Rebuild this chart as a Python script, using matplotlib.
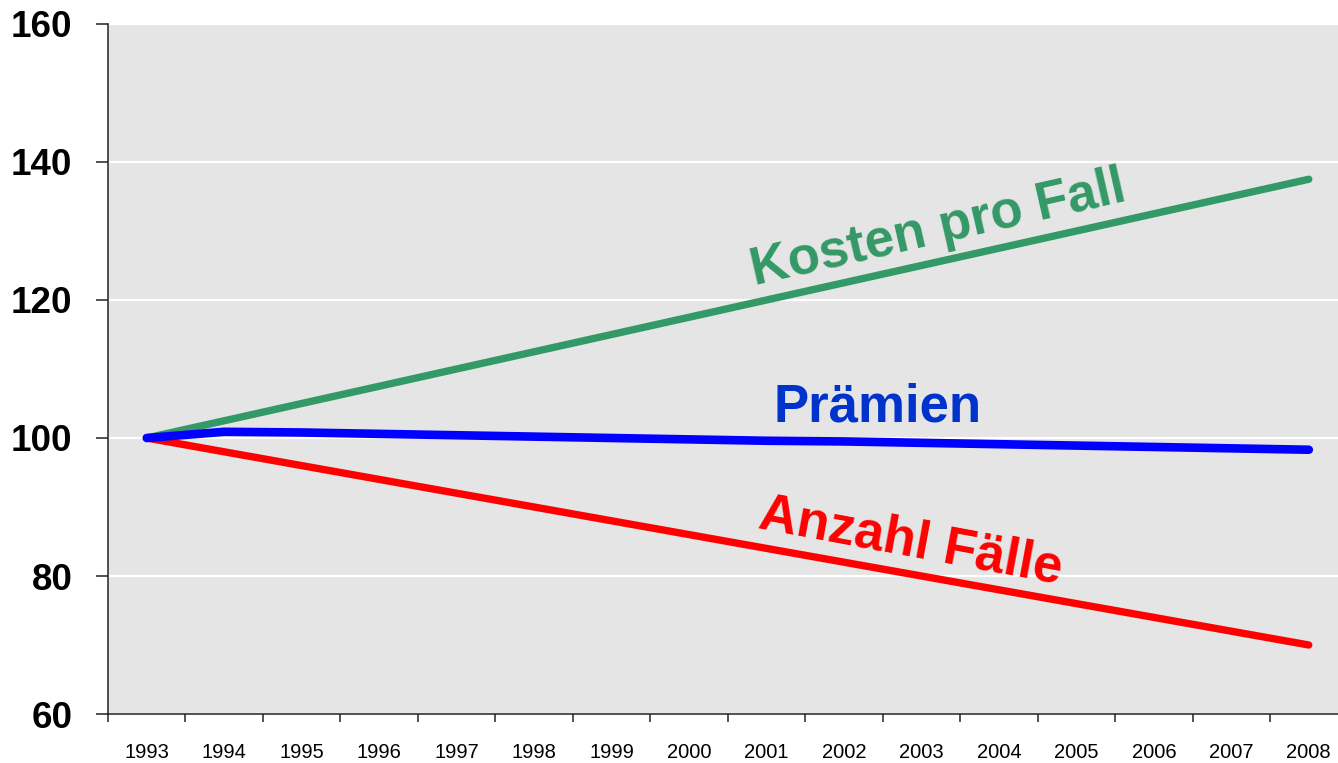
#!/usr/bin/env python3
"""Index chart 1993-2008: Kosten pro Fall, Prämien, Anzahl Fälle (1993 = 100)."""
import numpy as np
import matplotlib
matplotlib.use("Agg")
import matplotlib.pyplot as plt

plt.rcParams["font.family"] = ["Liberation Sans", "DejaVu Sans"]

YEARS = [str(y) for y in range(1993, 2009)]

# index values
KOSTEN = [100, 102.5, 105.0, 107.5, 110.0, 112.5, 115.0, 117.5,
          120.0, 122.5, 125.0, 127.5, 130.0, 132.5, 135.0, 137.5]
PRAEMIEN = [100, 100.9, 100.8, 100.6, 100.4, 100.2, 100.0, 99.8,
            99.6, 99.5, 99.3, 99.1, 98.9, 98.7, 98.5, 98.3]
FAELLE = [100, 98.0, 96.0, 94.0, 92.0, 90.0, 88.0, 86.0,
          84.0, 82.0, 80.0, 78.0, 76.0, 74.0, 72.0, 70.0]

GREEN = "#339966"
BLUE = "#0000FF"
BLUE_TXT = "#0033CC"
RED = "#FF0000"

fig = plt.figure(figsize=(13.38, 7.63), dpi=100)
ax = fig.add_axes([108 / 1338, 49 / 763, 1230 / 1338, 690 / 763])
ax.set_facecolor("#E5E5E5")

x = np.arange(len(YEARS))
ax.plot(x, KOSTEN, color=GREEN, lw=5.3, solid_capstyle="round", zorder=3)
ax.plot(x, FAELLE, color=RED, lw=5.3, solid_capstyle="round", zorder=3)
ax.plot(x, PRAEMIEN, color=BLUE, lw=6.2, solid_capstyle="round",
        solid_joinstyle="round", zorder=4)

ax.set_xlim(-0.5, 15.377)
ax.set_ylim(60, 160)

# white gridlines
ax.set_yticks([60, 80, 100, 120, 140, 160])
ax.yaxis.grid(True, color="white", lw=1.6, zorder=1)
ax.set_axisbelow(True)

# category axis: ticks between categories, labels at centres
ax.set_xticks(np.arange(-0.5, 15.5, 1.0))
ax.set_xticklabels([])
ax.set_xticks(x, minor=True)
ax.set_xticklabels(YEARS, minor=True, fontsize=14.5)
ax.tick_params(axis="x", which="major", length=6, width=1.1, color="#222222",
               direction="out")
ax.tick_params(axis="x", which="minor", length=0, pad=21)
ax.tick_params(axis="y", length=8.6, width=1.1, color="#222222", pad=17,
               labelsize=26.5)
for lbl in ax.get_yticklabels():
    lbl.set_fontweight("bold")

for side in ["top", "right"]:
    ax.spines[side].set_visible(False)
for side in ["left", "bottom"]:
    ax.spines[side].set_color("#222222")
    ax.spines[side].set_linewidth(1.1)
    ax.spines[side].set_zorder(5)

# series labels
txt = dict(fontsize=38, fontweight="bold", ha="center", va="center",
           rotation_mode="anchor", zorder=6)
ax.text(10.22, 130.3, "Kosten pro Fall", color=GREEN, rotation=12.8, **txt)
ax.text(9.44, 104.4, "Prämien", color=BLUE_TXT, **txt)
ax.text(9.86, 85.0, "Anzahl Fälle", color=RED, rotation=-10.5, **txt)

fig.savefig("out.png", dpi=100, facecolor="white")
